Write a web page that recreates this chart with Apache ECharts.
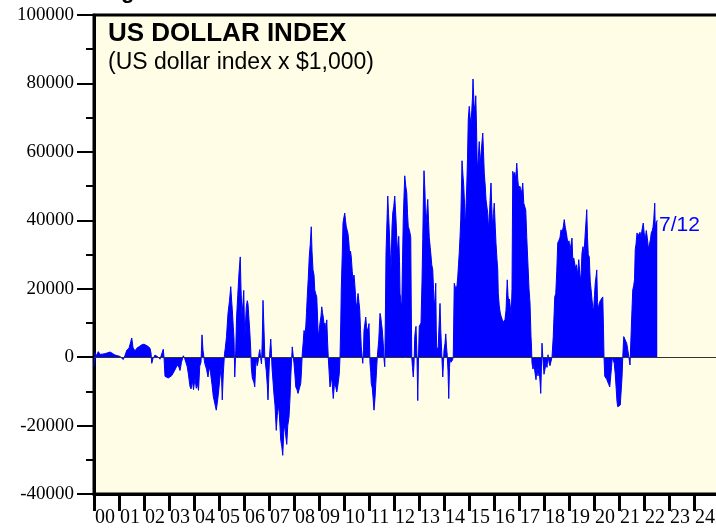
<!DOCTYPE html>
<html>
<head>
<meta charset="utf-8">
<script src="https://cdn.jsdelivr.net/npm/echarts@6/dist/echarts.min.js"></script>
<style>
  html, body { margin: 0; padding: 0; background: #ffffff; }
  #chart { width: 716px; height: 529px; }
</style>
</head>
<body>
<div id="chart"></div>
<script>
// decimal year of each weekly-ish reading
const dates = [
  2000.00, 2000.04, 2000.10, 2000.17, 2000.25, 2000.33, 2000.44, 2000.52, 2000.64, 2000.74, 2000.84, 2000.95,
  2001.04, 2001.12, 2001.17, 2001.24, 2001.31, 2001.40, 2001.47, 2001.51, 2001.56, 2001.64, 2001.71, 2001.81, 2001.91,
  2002.00, 2002.07, 2002.15, 2002.24, 2002.28, 2002.31, 2002.36, 2002.44, 2002.50, 2002.57, 2002.64, 2002.70, 2002.77, 2002.80, 2002.84, 2002.92, 2002.97,
  2003.05, 2003.11, 2003.19, 2003.24, 2003.33, 2003.40, 2003.44, 2003.50, 2003.57, 2003.62, 2003.68, 2003.73, 2003.77, 2003.84, 2003.88, 2003.94, 2003.98,
  2004.04, 2004.09, 2004.14, 2004.18, 2004.23, 2004.28, 2004.32, 2004.36, 2004.43, 2004.50, 2004.56, 2004.61, 2004.66, 2004.72, 2004.77, 2004.83, 2004.89, 2004.93, 2004.97,
  2005.03, 2005.09, 2005.13, 2005.17, 2005.22, 2005.25, 2005.30, 2005.36, 2005.42, 2005.47, 2005.50, 2005.53, 2005.57, 2005.60, 2005.63, 2005.67, 2005.70, 2005.75, 2005.80, 2005.85, 2005.88, 2005.92, 2005.96, 2005.99,
  2006.03, 2006.06, 2006.09, 2006.13, 2006.16, 2006.20, 2006.23, 2006.27, 2006.29, 2006.33, 2006.36, 2006.40, 2006.43, 2006.46, 2006.49, 2006.53, 2006.56, 2006.60, 2006.63, 2006.67, 2006.70, 2006.73, 2006.76, 2006.80, 2006.83, 2006.86, 2006.89, 2006.93, 2006.96, 2006.99,
  2007.03, 2007.07, 2007.10, 2007.12, 2007.16, 2007.20, 2007.24, 2007.29, 2007.33, 2007.39, 2007.43, 2007.47, 2007.51, 2007.55, 2007.59, 2007.63, 2007.67, 2007.71, 2007.75, 2007.80, 2007.84, 2007.87, 2007.93,
  2008.00, 2008.04, 2008.07, 2008.12, 2008.16, 2008.22, 2008.27, 2008.30, 2008.33, 2008.37, 2008.40, 2008.44, 2008.47, 2008.50, 2008.53, 2008.57, 2008.61, 2008.65, 2008.69, 2008.72, 2008.76, 2008.80, 2008.83, 2008.87, 2008.91, 2008.94, 2008.97,
  2009.01, 2009.04, 2009.08, 2009.11, 2009.14, 2009.17, 2009.21, 2009.24, 2009.28, 2009.31, 2009.34, 2009.37, 2009.41, 2009.44, 2009.48, 2009.51, 2009.54, 2009.57, 2009.61, 2009.64, 2009.68, 2009.71, 2009.74, 2009.77, 2009.81, 2009.84, 2009.87, 2009.89, 2009.93, 2009.96,
  2010.00, 2010.03, 2010.06, 2010.09, 2010.13, 2010.16, 2010.20, 2010.23, 2010.26, 2010.29, 2010.33, 2010.36, 2010.40, 2010.43, 2010.46, 2010.49, 2010.53, 2010.56, 2010.60, 2010.63, 2010.66, 2010.69, 2010.72, 2010.75, 2010.78, 2010.80, 2010.84, 2010.87, 2010.90, 2010.93, 2010.97,
  2011.00, 2011.04, 2011.07, 2011.09, 2011.13, 2011.16, 2011.20, 2011.24, 2011.27, 2011.30, 2011.33, 2011.39, 2011.44, 2011.47, 2011.50, 2011.53, 2011.57, 2011.60, 2011.63, 2011.66, 2011.68, 2011.72, 2011.75, 2011.78, 2011.81, 2011.85, 2011.88, 2011.92, 2011.95, 2011.99,
  2012.03, 2012.06, 2012.08, 2012.11, 2012.13, 2012.16, 2012.19, 2012.22, 2012.24, 2012.28, 2012.31, 2012.34, 2012.37, 2012.40, 2012.43, 2012.47, 2012.51, 2012.54, 2012.57, 2012.62, 2012.67, 2012.69, 2012.71, 2012.74, 2012.77, 2012.80, 2012.83, 2012.86, 2012.88, 2012.92, 2012.95, 2012.98,
  2013.01, 2013.05, 2013.08, 2013.12, 2013.15, 2013.18, 2013.20, 2013.24, 2013.27, 2013.31, 2013.35, 2013.38, 2013.41, 2013.45, 2013.48, 2013.51, 2013.55, 2013.58, 2013.61, 2013.64, 2013.67, 2013.69, 2013.71, 2013.74, 2013.77, 2013.80, 2013.84, 2013.87, 2013.91, 2013.95, 2013.98,
  2014.00, 2014.04, 2014.07, 2014.10, 2014.13, 2014.16, 2014.19, 2014.22, 2014.24, 2014.28, 2014.31, 2014.34, 2014.37, 2014.39, 2014.41, 2014.45, 2014.48, 2014.52, 2014.55, 2014.58, 2014.61, 2014.64, 2014.67, 2014.70, 2014.72, 2014.76, 2014.79, 2014.82, 2014.85, 2014.88, 2014.91, 2014.94, 2014.97,
  2015.01, 2015.04, 2015.08, 2015.11, 2015.14, 2015.16, 2015.20, 2015.24, 2015.27, 2015.30, 2015.33, 2015.37, 2015.41, 2015.44, 2015.48, 2015.51, 2015.55, 2015.58, 2015.61, 2015.65, 2015.68, 2015.72, 2015.75, 2015.78, 2015.82, 2015.85, 2015.88, 2015.91, 2015.94, 2015.98,
  2016.01, 2016.05, 2016.08, 2016.12, 2016.15, 2016.17, 2016.21, 2016.25, 2016.29, 2016.33, 2016.37, 2016.40, 2016.44, 2016.48, 2016.53, 2016.56, 2016.59, 2016.62, 2016.66, 2016.69, 2016.72, 2016.75, 2016.79, 2016.83, 2016.87, 2016.91, 2016.95, 2016.99,
  2017.03, 2017.07, 2017.11, 2017.15, 2017.19, 2017.23, 2017.27, 2017.31, 2017.35, 2017.40, 2017.44, 2017.48, 2017.50, 2017.52, 2017.56, 2017.60, 2017.63, 2017.68, 2017.72, 2017.76, 2017.80, 2017.84, 2017.87, 2017.90, 2017.92, 2017.96,
  2018.00, 2018.04, 2018.08, 2018.12, 2018.16, 2018.20, 2018.24, 2018.28, 2018.32, 2018.37, 2018.43, 2018.47, 2018.51, 2018.55, 2018.59, 2018.64, 2018.68, 2018.72, 2018.77, 2018.81, 2018.85, 2018.89, 2018.95,
  2019.00, 2019.04, 2019.08, 2019.12, 2019.15, 2019.19, 2019.22, 2019.26, 2019.30, 2019.35, 2019.39, 2019.43, 2019.47, 2019.52, 2019.56, 2019.60, 2019.65, 2019.71, 2019.74, 2019.77, 2019.81, 2019.85, 2019.88, 2019.92, 2019.96, 2019.99,
  2020.02, 2020.05, 2020.09, 2020.11, 2020.14, 2020.18, 2020.21, 2020.25, 2020.30, 2020.35, 2020.38, 2020.40, 2020.43, 2020.47, 2020.51, 2020.55, 2020.59, 2020.63, 2020.67, 2020.70, 2020.73, 2020.77, 2020.81, 2020.85, 2020.89, 2020.92, 2020.95, 2020.98,
  2021.01, 2021.05, 2021.09, 2021.12, 2021.15, 2021.19, 2021.23, 2021.27, 2021.31, 2021.35, 2021.40, 2021.44, 2021.49, 2021.52, 2021.55, 2021.59, 2021.62, 2021.65, 2021.68, 2021.72, 2021.76, 2021.80, 2021.84, 2021.88, 2021.92, 2021.97,
  2022.01, 2022.05, 2022.09, 2022.13, 2022.16, 2022.19, 2022.23, 2022.26, 2022.29, 2022.33, 2022.36, 2022.39, 2022.43, 2022.45, 2022.48, 2022.53
]

// index value x $1,000
const values = [
  -2700, 1200, 500, 1600, 800, 1200, 1000, 700, 1500, 1100, 600, 400,
  200, -300, -700, 500, 2000, 2600, 3100, 5600, 2800, 1800, 2600, 3100, 3600,
  3800, 4100, 3200, 2600, 1200, -1800, -400, 600, 900, 0, -600, -700, 2300, 0, -5600, -6100, -6100,
  -5800, -5400, -5800, -3700, -2300, -3000, -3900, -1500, 400, -200, 0, -2800, -4700, -8600, -9300, -7000, -9500,
  -6200, -9100, -8000, -9700, -2600, -1500, 6500, 2000, -1800, -3500, -5800, -2800, -4500, -8000, -11400, -13500, -15500, -13500, -11000,
  -6500, -2600, -12500, -5000, 1000, 2500, 6000, 12800, 16500, 20600, 17000, 14000, 9000, 5300, -5800, 2000, 11200, 18000, 24600, 29300, 20000, 12100, 16000, 19500,
  5300, 10000, 14600, 16500, 15500, 11000, 7700, 2000, -2600, -6000, -6500, -7500, -8700, -4000, -300, -2500, -1500, 1000, 2200, -500, -2000, 5000, 16600, 8000, 500, -2000, -4000, -8000, -12500, -6000,
  1200, 5300, 1000, -3000, -7000, -11000, -14000, -21400, -17000, -14000, -19000, -24300, -26000, -28700, -22000, -19500, -23000, -25500, -20000, -17500, -12000, -5800, 3000,
  -1800, -5500, -8700, -9500, -10600, -9000, -7700, -4000, 1000, 4500, 7800, 7000, 8800, 13000, 17600, 23000, 29300, 33000, 38100, 31000, 25500, 24000, 19600, 18500, 17600, 12000, 6000,
  8000, 10000, 12000, 14700, 13000, 11700, 9000, 10000, 7500, 10900, 5000, 0, -5000, -8700, -7000, -5800, -9000, -12100, -8500, -7700, -9000, -10200, -9000, -9500, -5000, 0, 10000, 19600, 30000, 39200,
  41000, 42100, 40000, 38100, 37000, 36100, 33000, 29300, 31000, 29300, 25000, 22700, 24000, 21500, 18000, 14700, 16000, 18600, 16000, 13700, 8000, 3000, 500, -1800, 2000, 7800, 10000, 11700, 9000, 7800, 8500,
  9800, -1800, -4500, -7700, -9000, -11600, -15500, -12000, -8000, -4000, 0, 5000, 12800, 11700, 9800, 8000, 3900, -600, -2800, 15000, 30500, 40000, 47100, 42000, 37300, 30000, 25500, 38000, 42100, 44000,
  47100, 43000, 40200, 35000, 30500, 33000, 35300, 28000, 18700, 16000, 14700, 28000, 40200, 47000, 53000, 50000, 48000, 42000, 38200, 37000, 35000, 15000, 0, -3000, -5800, -2000, 6000, 8000, 9000, 0, -12700, 0,
  9000, 9500, 10000, 22000, 34300, 48000, 54500, 48000, 38200, 42000, 46100, 40000, 35000, 32000, 29600, 27000, 25500, 20000, 14700, 17000, 21600, 8000, 2000, 1500, 3000, 9000, 15700, 8000, 1000, -5800, -1500,
  2000, 4000, 6800, 3000, 500, -4000, -12100, -3000, -500, -1500, -1000, -800, 0, -500, 21600, 20500, 19600, 21000, 23500, 27000, 30500, 35000, 40200, 50000, 57400, 53000, 50000, 45000, 37300, 44000, 50000, 58000, 69500,
  73300, 70400, 68000, 72000, 76000, 81300, 74000, 72000, 76400, 67500, 54800, 58000, 63000, 55700, 59600, 62000, 65500, 60000, 53800, 50000, 46000, 46000, 42000, 37200, 42000, 47000, 50900, 44000, 38200, 42000,
  45000, 38000, 33200, 28500, 25500, 18700, 15000, 12900, 11800, 11000, 10200, 9900, 11000, 13700, 22600, 18000, 16000, 17000, 16600, 12000, 20000, 54300, 53000, 54000, 52000, 56700, 52000, 48800,
  50000, 49000, 48000, 50900, 45000, 44000, 43000, 35000, 28400, 20000, 15800, 6000, 3000, -1800, -3500, -2000, -4000, -6600, -3000, -5500, -3000, -7000, -10600, -2000, 4100, -1000,
  -5000, -3500, -1500, -3000, 700, -1500, -2500, -3000, 0, 6000, 17700, 18500, 25000, 33400, 34000, 35000, 37200, 36500, 38000, 40200, 38000, 36500, 33400,
  34000, 31300, 33000, 34800, 28400, 29000, 28500, 26000, 27000, 24000, 28500, 24600, 22000, 30500, 32300, 30000, 36300, 43100, 35000, 30000, 29300, 22000, 20000, 16800, 13900, 14500,
  18000, 21700, 24000, 25500, 16000, 14000, 15700, 16500, 17000, 17600, 8000, 0, -5600, -6000, -6500, -7000, -8000, -8700, -9000, -3000, 0, 500, -1800, -5000, -9500, -13000, -14500, -15000,
  -15000, -14000, -14500, -6000, 0, 6000, 5500, 6000, 4000, 2200, 2500, -2300, 8000, 14000, 19600, 21000, 22600, 31500, 33000, 36300, 35500, 36000, 36500, 35000, 37200, 39200,
  36000, 34500, 37000, 35000, 33000, 31500, 33400, 34500, 36300, 37000, 38000, 40100, 45000, 37300, 39200, 40000
]

const yTicks = [-40000, -20000, 0, 20000, 40000, 60000, 80000, 100000]
const yearLabels = ['00', '01', '02', '03', '04', '05', '06', '07', '08', '09', '10', '11', '12',
  '13', '14', '15', '16', '17', '18', '19', '20', '21', '22', '23', '24']
const lastDateLabel = '7/12'

const chart = echarts.init(document.getElementById('chart'))

const seriesData = dates.map((d, i) => [d, values[i]])

const option = {
  backgroundColor: '#ffffff',
  animation: false,
  grid: {
    left: 94,
    right: -3,
    top: 15,
    bottom: 35,
    show: true,
    backgroundColor: '#fffde6',
    borderColor: '#000',
    borderWidth: 3,
    outerBoundsMode: 'none'
  },
  xAxis: {
    type: 'value',
    min: 2000,
    max: 2025,
    interval: 1,
    splitLine: { show: false },
    axisLine: { show: true, onZero: false, lineStyle: { color: '#000', width: 3 } },
    axisTick: { show: true, length: 17, lineStyle: { color: '#000', width: 3 } },
    axisLabel: {
      color: '#000',
      fontFamily: 'Liberation Serif',
      fontSize: 20,
      align: 'left',
      margin: 14,
      padding: [0, 0, 0, 1],
      formatter: (v) => yearLabels[Math.round(v - 2000)] || ''
    }
  },
  yAxis: {
    type: 'value',
    min: -40000,
    max: 100000,
    interval: 20000,
    splitLine: { show: false },
    axisLine: { show: true, lineStyle: { color: '#000', width: 3 } },
    axisTick: { show: true, length: 17, lineStyle: { color: '#000', width: 2 } },
    minorTick: { show: true, splitNumber: 2, length: 8, lineStyle: { color: '#000', width: 2 } },
    axisLabel: {
      color: '#000',
      fontFamily: 'Liberation Serif',
      fontSize: 19,
      margin: 20,
      formatter: (v) => (yTicks.indexOf(v) >= 0 ? String(v) : '')
    }
  },
  series: [
    {
      type: 'line',
      data: seriesData,
      showSymbol: false,
      sampling: 'none',
      lineStyle: { color: '#0000ff', width: 1 },
      areaStyle: { color: '#0000ff', opacity: 1, origin: 0 },
      markLine: {
        silent: true,
        symbol: 'none',
        label: { show: false },
        lineStyle: { color: '#333', width: 1, type: 'solid' },
        data: [{ yAxis: 0 }]
      }
    }
  ],
  graphic: [
    {
      type: 'text',
      left: 121,
      top: -19,
      style: { text: 'g', fill: '#000', font: 'bold 22px "Liberation Sans"' }
    },
    {
      type: 'text',
      left: 108,
      top: 21,
      style: { text: 'US DOLLAR INDEX', fill: '#000', font: 'bold 26px "Liberation Sans"' }
    },
    {
      type: 'text',
      left: 108,
      top: 51,
      style: { text: '(US dollar index x $1,000)', fill: '#000', font: '23px "Liberation Sans"' }
    },
    {
      type: 'text',
      left: 659,
      top: 215,
      style: { text: lastDateLabel, fill: '#0000ff', font: '21px "Liberation Sans"' }
    }
  ]
}

chart.setOption(option)
</script>
</body>
</html>
